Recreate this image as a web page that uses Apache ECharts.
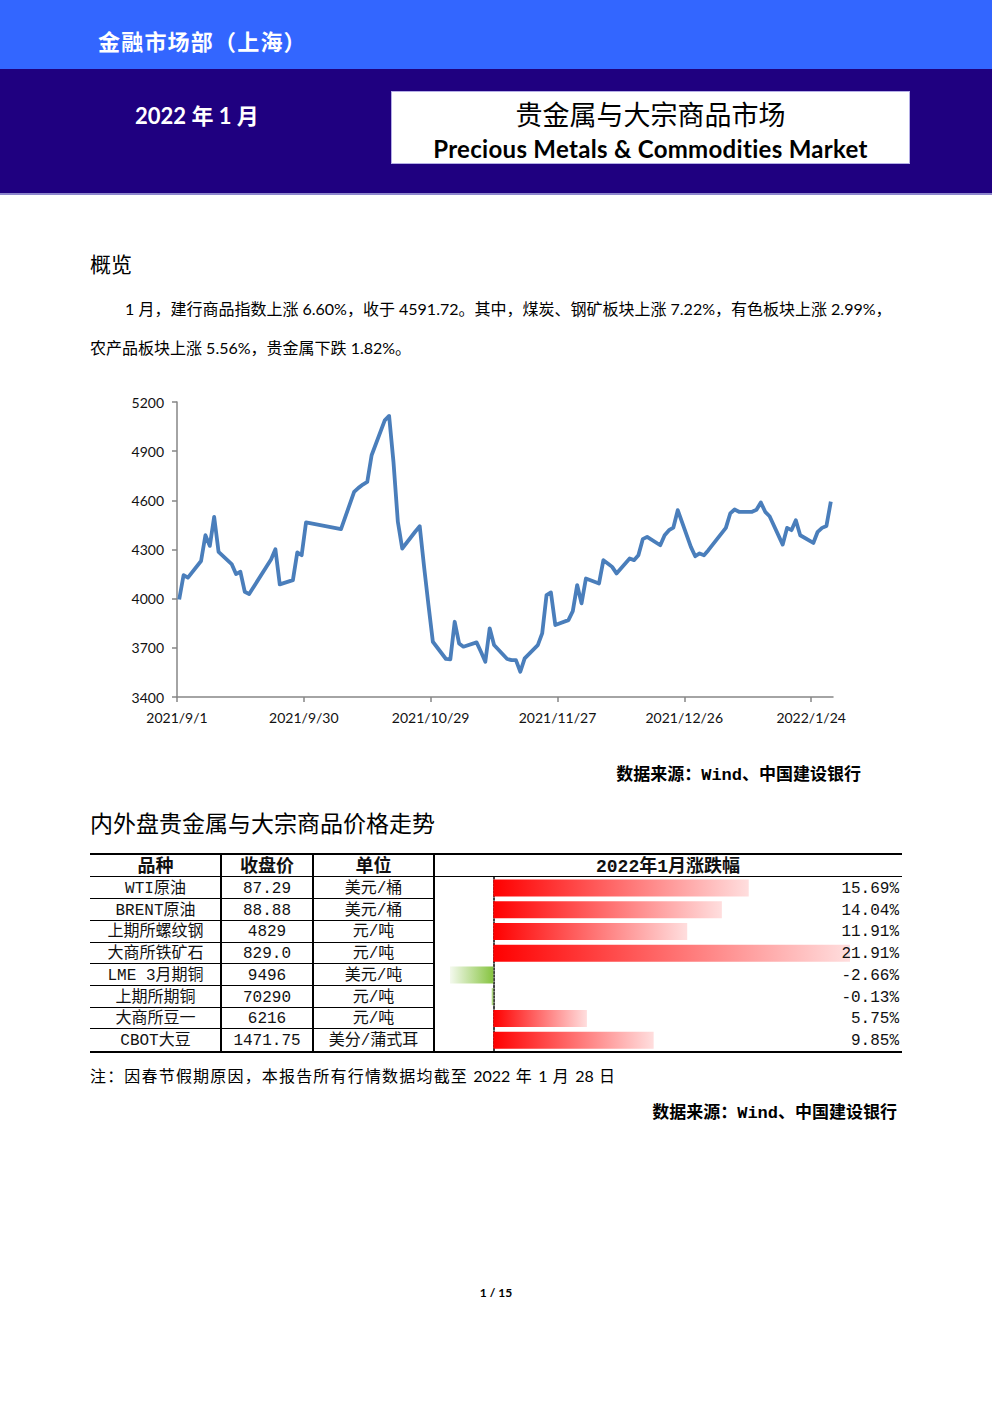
<!DOCTYPE html>
<html>
<head>
<meta charset="utf-8">
<script src="https://cdn.jsdelivr.net/npm/echarts@6/dist/echarts.min.js"></script>
<style>
  body { margin: 0; background: #fff; }
  #page {
    position: relative;
    width: 992px;
    height: 1403px;
    overflow: hidden;
    background: #fff;
    font-family: "Noto Sans CJK SC", sans-serif;
    color: #000;
  }
  .t { position: absolute; white-space: nowrap; }
  .cell {
    position: absolute;
    text-align: center;
    white-space: nowrap;
    font-family: "Liberation Mono", "Noto Sans CJK SC", monospace;
    font-size: 16px;
    color: #111;
  }
  .hd { font-weight: bold; font-size: 18px; }
  .ln { position: absolute; background: #000; }
</style>
</head>
<body>
<div id="page">
  <div class="t" style="left:0;top:0;width:992px;height:69px;background:#3366ff;"></div>
  <div class="t" style="left:0;top:69px;width:992px;height:124px;background:#1f0080;"></div>
  <div class="t" style="left:0;top:193px;width:992px;height:2px;background:#8c86cc;"></div>
  <div class="t" style="left:98px;top:26px;line-height:28px;font-size:22px;letter-spacing:1.2px;font-weight:bold;color:#fff;">金融市场部（上海）</div>
  <div class="t" style="left:135px;top:102px;line-height:28px;font-size:22px;font-weight:bold;color:#fff;font-family:Lato,'Noto Sans CJK SC';">2022 年 1 月</div>
  <div class="t" style="left:391px;top:91px;width:517px;height:71px;background:#fff;border:1px solid #b4aee6;"></div>
  <div class="t" style="left:391px;width:519px;top:98px;line-height:32px;font-size:27px;text-align:center;">贵金属与大宗商品市场</div>
  <div class="t" style="left:391px;width:519px;top:134px;line-height:30px;font-size:24px;letter-spacing:0.3px;font-weight:bold;text-align:center;font-family:Lato,sans-serif;">Precious Metals &amp; Commodities Market</div>

  <div class="t" style="left:90px;top:249px;line-height:28px;font-size:21px;">概览</div>
  <div class="t" style="left:125px;width:765px;top:297px;line-height:24px;font-size:16px;text-align:justify;text-align-last:justify;font-family:Lato,'Noto Sans CJK SC';">1 月，建行商品指数上涨 6.60%，收于 4591.72。其中，煤炭、钢矿板块上涨 7.22%，有色板块上涨 2.99%，</div>
  <div class="t" style="left:90px;top:336px;line-height:24px;font-size:16px;font-family:Lato,'Noto Sans CJK SC';">农产品板块上涨 5.56%，贵金属下跌 1.82%。</div>

  <div id="lineChart" class="t" style="left:100px;top:385px;width:780px;height:350px;"></div>

  <div class="t" style="right:131px;top:764px;line-height:24px;font-size:17px;font-weight:bold;font-family:'Liberation Mono','Noto Sans CJK SC';">数据来源：Wind、中国建设银行</div>

  <div class="t" style="left:90px;top:807px;line-height:30px;font-size:23px;">内外盘贵金属与大宗商品价格走势</div>

  <div id="table" class="t" style="left:90px;top:853px;width:812px;height:200px;"></div>

  <div class="t" style="left:90px;width:525px;top:1064px;line-height:24px;font-size:16px;text-align:justify;text-align-last:justify;font-family:Lato,'Noto Sans CJK SC';">注：因春节假期原因，本报告所有行情数据均截至 2022 年 1 月 28 日</div>
  <div class="t" style="right:95px;top:1102px;line-height:24px;font-size:17px;font-weight:bold;font-family:'Liberation Mono','Noto Sans CJK SC';">数据来源：Wind、中国建设银行</div>

  <div class="t" style="left:0;width:992px;top:1285px;line-height:16px;font-size:12px;font-weight:bold;text-align:center;font-family:Lato,sans-serif;">1 / 15</div>
</div>

<script>
// 建行商品指数（交易日）
const tradeDates = [
  '2021/9/1', '2021/9/2', '2021/9/3', '2021/9/6', '2021/9/7', '2021/9/8', '2021/9/9', '2021/9/10',
  '2021/9/13', '2021/9/14', '2021/9/15', '2021/9/16', '2021/9/17', '2021/9/22', '2021/9/23', '2021/9/24',
  '2021/9/27', '2021/9/28', '2021/9/29', '2021/9/30', '2021/10/8',
  '2021/10/11', '2021/10/12', '2021/10/13', '2021/10/14', '2021/10/15',
  '2021/10/18', '2021/10/19', '2021/10/20', '2021/10/21', '2021/10/22',
  '2021/10/25', '2021/10/26', '2021/10/27', '2021/10/28', '2021/10/29',
  '2021/11/1', '2021/11/2', '2021/11/3', '2021/11/4', '2021/11/5',
  '2021/11/8', '2021/11/9', '2021/11/10', '2021/11/11', '2021/11/12',
  '2021/11/15', '2021/11/16', '2021/11/17', '2021/11/18', '2021/11/19',
  '2021/11/22', '2021/11/23', '2021/11/24', '2021/11/25', '2021/11/26',
  '2021/11/29', '2021/11/30', '2021/12/1', '2021/12/2', '2021/12/3',
  '2021/12/6', '2021/12/7', '2021/12/8', '2021/12/9', '2021/12/10',
  '2021/12/13', '2021/12/14', '2021/12/15', '2021/12/16', '2021/12/17',
  '2021/12/20', '2021/12/21', '2021/12/22', '2021/12/23', '2021/12/24',
  '2021/12/27', '2021/12/28', '2021/12/29', '2021/12/30', '2021/12/31',
  '2022/1/4', '2022/1/5', '2022/1/6', '2022/1/7',
  '2022/1/10', '2022/1/11', '2022/1/12', '2022/1/13', '2022/1/14',
  '2022/1/17', '2022/1/18', '2022/1/19', '2022/1/20', '2022/1/21',
  '2022/1/24', '2022/1/25', '2022/1/26', '2022/1/27', '2022/1/28'
];
const indexValues = [
  3995, 4143, 4128, 4230, 4387, 4322, 4499, 4286,
  4211, 4150, 4164, 4042, 4028, 4239, 4302, 4087,
  4113, 4282, 4265, 4465, 4425,
  4651, 4676, 4696, 4712, 4875,
  5088, 5115, 4834, 4469, 4306,
  4410, 4442, 4194, 3961, 3737,
  3632, 3630, 3859, 3727, 3707,
  3733, 3676, 3615, 3819, 3717,
  3632, 3625, 3625, 3554, 3636,
  3717, 3788, 4022, 4038, 3839,
  3869, 3924, 4083, 3971, 4123,
  4093, 4235, 4215, 4194, 4154,
  4245, 4235, 4265, 4363, 4377,
  4326, 4387, 4418, 4434, 4540,
  4316, 4259, 4276, 4265, 4296,
  4432, 4520, 4544, 4530,
  4530, 4542, 4587, 4530, 4503,
  4330, 4432, 4418, 4479, 4387,
  4340, 4408, 4432, 4444, 4592
];
const axisStartDate = '2021/9/1';
const axisSpanDays = 150;
const axisStepDays = 29;
const yMin = 3400, yMax = 5200, yStep = 300;

// 表格
const tableHeaders = ['品种', '收盘价', '单位', '2022年1月涨跌幅'];
const itemNames = ['WTI原油', 'BRENT原油', '上期所螺纹钢', '大商所铁矿石', 'LME 3月期铜', '上期所期铜', '大商所豆一', 'CBOT大豆'];
const closePrices = ['87.29', '88.88', '4829', '829.0', '9496', '70290', '6216', '1471.75'];
const units = ['美元/桶', '美元/桶', '元/吨', '元/吨', '美元/吨', '元/吨', '元/吨', '美分/蒲式耳'];
const monthChanges = [15.69, 14.04, 11.91, 21.91, -2.66, -0.13, 5.75, 9.85];

const DAY = 86400000;
function toUtc(s) {
  const p = s.split('/').map(Number);
  return Date.UTC(p[0], p[1] - 1, p[2]);
}
const base = toUtc(axisStartDate);
function dayLabel(d) {
  const t = new Date(base + d * DAY);
  return t.getUTCFullYear() + '/' + (t.getUTCMonth() + 1) + '/' + t.getUTCDate();
}

// 折线图
const lineData = tradeDates.map((s, i) => [(toUtc(s) - base) / DAY + 0.5, indexValues[i]]);
const xTicks = [];
for (let d = 0; d < axisSpanDays; d += axisStepDays) xTicks.push(d);

const lineChart = echarts.init(document.getElementById('lineChart'), null, { renderer: 'svg' });
lineChart.setOption({
  animation: false,
  grid: { left: 77, right: 47, top: 17, bottom: 38 },
  xAxis: {
    type: 'value',
    min: 0,
    max: axisSpanDays,
    interval: axisStepDays,
    splitLine: { show: false },
    axisLine: { lineStyle: { color: '#868686', width: 1.5 } },
    axisTick: { customValues: xTicks, length: 5, lineStyle: { color: '#868686', width: 1.5 } },
    axisLabel: {
      customValues: xTicks,
      formatter: dayLabel,
      margin: 13,
      fontFamily: 'Lato',
      fontSize: 14,
      color: '#111'
    }
  },
  yAxis: {
    type: 'value',
    min: yMin,
    max: yMax,
    interval: yStep,
    splitLine: { show: false },
    axisLine: { show: true, lineStyle: { color: '#868686', width: 1.5 } },
    axisTick: { show: true, length: 5, lineStyle: { color: '#868686', width: 1.5 } },
    axisLabel: { margin: 13, formatter: v => String(v), fontFamily: 'Lato', fontSize: 14, color: '#111' }
  },
  series: [{
    type: 'line',
    data: lineData,
    showSymbol: false,
    lineStyle: { color: '#4a7ebb', width: 3.8, join: 'round' }
  }]
});

// 表格结构
const tbl = document.getElementById('table');
const colEdges = [0, 131, 223, 344, 812];
const headTop = 2, headH = 21, rowTop = 24, rowH = 21.7, textShift = 2;
const bodyBottom = rowTop + rowH * itemNames.length;

function addDiv(cls, style, text) {
  const d = document.createElement('div');
  d.className = cls;
  d.setAttribute('style', style);
  if (text !== undefined) d.textContent = text;
  tbl.appendChild(d);
  return d;
}

addDiv('ln', `left:0;top:0;width:812px;height:2px;`);
addDiv('ln', `left:0;top:${rowTop - 1}px;width:812px;height:1px;`);
addDiv('ln', `left:0;top:${bodyBottom}px;width:812px;height:2px;`);
for (let c = 1; c < 4; c++) {
  addDiv('ln', `left:${colEdges[c] - 1}px;top:0;width:1.5px;height:${bodyBottom}px;`);
}
for (let r = 1; r < itemNames.length; r++) {
  addDiv('ln', `left:0;top:${rowTop + r * rowH - 0.5}px;width:${colEdges[3]}px;height:1px;`);
}
tableHeaders.forEach((h, c) => {
  addDiv('cell hd', `left:${colEdges[c]}px;width:${colEdges[c + 1] - colEdges[c]}px;top:${headTop + textShift}px;line-height:${headH}px;`, h);
});

const barBox = addDiv('t', `left:${colEdges[3]}px;top:${rowTop}px;width:${colEdges[4] - colEdges[3]}px;height:${rowH * itemNames.length}px;`);

const cols = [itemNames, closePrices, units];
for (let r = 0; r < itemNames.length; r++) {
  const top = rowTop + r * rowH + textShift;
  for (let c = 0; c < 3; c++) {
    addDiv('cell', `left:${colEdges[c]}px;width:${colEdges[c + 1] - colEdges[c]}px;top:${top}px;line-height:${rowH}px;`, cols[c][r]);
  }
  addDiv('cell', `left:${colEdges[3]}px;width:${colEdges[4] - colEdges[3] - 3}px;text-align:right;z-index:2;top:${top}px;line-height:${rowH}px;`,
    monthChanges[r].toFixed(2) + '%');
}

// 涨跌幅数据条
const barChart = echarts.init(barBox, null, { renderer: 'svg' });
const redFill = new echarts.graphic.LinearGradient(0, 0, 1, 0, [
  { offset: 0, color: '#ff0000' },
  { offset: 1, color: '#ffdede' }
]);
const greenFill = new echarts.graphic.LinearGradient(0, 0, 1, 0, [
  { offset: 0, color: '#f4f9ee' },
  { offset: 1, color: '#86c440' }
]);
barChart.setOption({
  animation: false,
  grid: { left: 16, right: 52, top: 0, bottom: 0 },
  xAxis: { type: 'value', min: 'dataMin', max: 'dataMax', show: false, splitLine: { show: false } },
  yAxis: {
    type: 'category',
    data: itemNames,
    inverse: true,
    axisLine: { onZero: true, lineStyle: { color: '#000', width: 1.5, type: [2, 1.5] } },
    axisTick: { show: false },
    axisLabel: { show: false }
  },
  series: [{
    type: 'bar',
    data: monthChanges,
    barWidth: 17,
    itemStyle: { color: p => (p.value >= 0 ? redFill : greenFill) }
  }]
});
</script>
</body>
</html>
